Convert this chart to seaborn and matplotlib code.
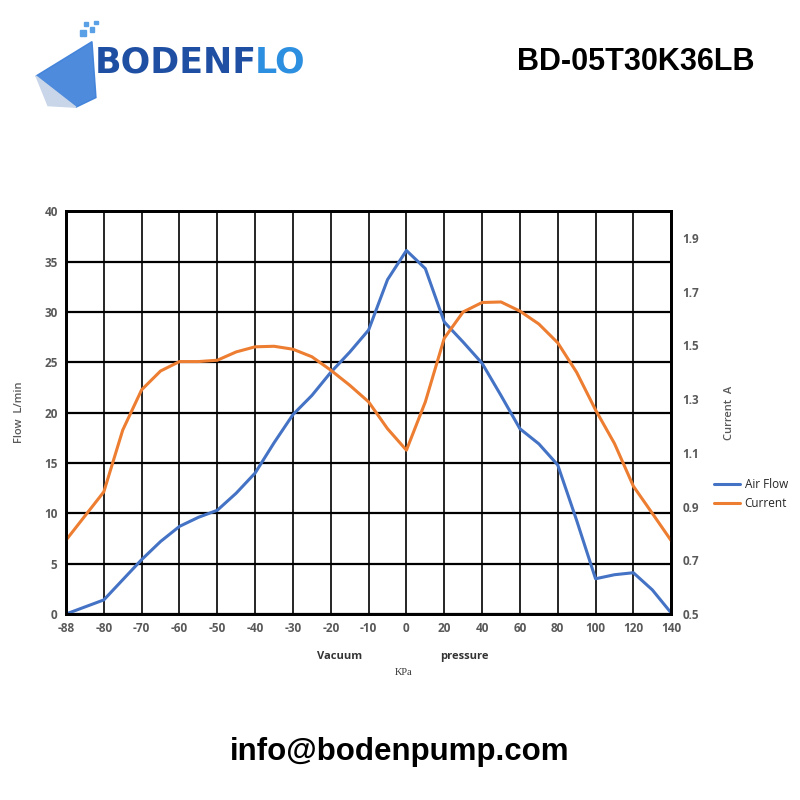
import matplotlib
matplotlib.use("Agg")
import pandas as pd
import matplotlib.pyplot as plt
from matplotlib.patches import Polygon, Rectangle
import seaborn as sns

# category labels of the pressure axis (equally spaced on the chart)
KPA_LABELS = [-88, -80, -70, -60, -50, -40, -30, -20, -10, 0, 20, 40, 60, 80, 100, 120, 140]

# readings taken at every tick and half-way between ticks (axis position)
POS = [0, 0.5, 1, 1.5, 2, 2.5, 3, 3.5, 4, 4.5, 5, 5.5, 6, 6.5, 7, 7.5, 8,
       8.5, 9, 9.5, 10, 10.5, 11, 11.5, 12, 12.5, 13, 13.5, 14, 14.5, 15, 15.5, 16]
AIR_FLOW = [0.0, 0.7, 1.4, 3.4, 5.4, 7.2, 8.7, 9.6, 10.3, 12.0, 14.0, 17.0, 19.8,
            21.7, 24.0, 26.0, 28.2, 33.2, 36.1, 34.3, 29.0, 27.0, 24.9, 21.7, 18.4,
            16.9, 14.8, 9.3, 3.5, 3.9, 4.1, 2.4, 0.1]
CURRENT = [0.775, 0.865, 0.955, 1.185, 1.335, 1.405, 1.44, 1.44, 1.445, 1.476, 1.495,
           1.497, 1.486, 1.458, 1.408, 1.352, 1.29, 1.19, 1.11, 1.29, 1.527, 1.625,
           1.66, 1.662, 1.628, 1.58, 1.51, 1.40, 1.26, 1.135, 0.976, 0.875, 0.773]

FLOW_TICKS = [0, 5, 10, 15, 20, 25, 30, 35, 40]
CURRENT_TICKS = [0.5, 0.7, 0.9, 1.1, 1.3, 1.5, 1.7, 1.9]

BLUE = "#4472C4"
ORANGE = "#ED7D31"
GRAY = "#595959"

df = pd.DataFrame({"pos": POS, "flow": AIR_FLOW, "current": CURRENT})

sns.set_style("white")
plt.rcParams["font.family"] = ["Liberation Sans", "DejaVu Sans"]
plt.rcParams["lines.solid_joinstyle"] = "round"

fig = plt.figure(figsize=(8, 8), dpi=100)
ax = fig.add_axes([0.0825, 0.2325, 0.7565, 0.5035])

sns.lineplot(data=df, x="pos", y="flow", ax=ax, color=BLUE, linewidth=2.2,
             label="Air Flow", legend=False)
ax2 = ax.twinx()
sns.lineplot(data=df, x="pos", y="current", ax=ax2, color=ORANGE, linewidth=2.2,
             label="Current", legend=False)

ax.set_xlim(0, 16)
ax.set_ylim(0, 40)
ax2.set_ylim(0.5, 2.0)

ax.set_xticks(range(len(KPA_LABELS)))
ax.set_xticklabels([str(v) for v in KPA_LABELS])
ax.set_yticks(FLOW_TICKS)
ax2.set_yticks(CURRENT_TICKS)
ax2.set_yticklabels([f"{v:.1f}" for v in CURRENT_TICKS])

ax.grid(True, axis="y", color="black", linewidth=1.6)
ax.grid(True, axis="x", color="black", linewidth=1.2)
ax.set_axisbelow(True)
ax.tick_params(length=0, labelsize=8.5, labelcolor=GRAY, pad=6)
ax2.tick_params(length=0, labelsize=8.5, labelcolor=GRAY, pad=8)
for t in ax.get_xticklabels() + ax.get_yticklabels() + ax2.get_yticklabels():
    t.set_fontweight("bold")
    t.set_family(["Open Sans", "DejaVu Sans"])
for a in (ax, ax2):
    for s in a.spines.values():
        s.set_color("black")
        s.set_linewidth(2.0)

ax.set_xlabel("")
ax.set_ylabel("Flow  L/min", fontsize=8, color=GRAY, fontweight="semibold",
              family=["Open Sans"], labelpad=14)
ax2.set_ylabel("Current  A", fontsize=8, color=GRAY, fontweight="semibold",
               family=["Open Sans"], labelpad=18)

fig.text(0.425, 0.179, "Vacuum", ha="center", va="center", fontsize=8,
         fontweight="bold", color="#333333", family=["Open Sans"])
fig.text(0.581, 0.179, "pressure", ha="center", va="center", fontsize=8,
         fontweight="bold", color="#333333", family=["Open Sans"])
fig.text(0.505, 0.159, "KPa", ha="center", va="center", fontsize=7.5,
         color="#333333", family=["Liberation Serif"])

h1, l1 = ax.get_legend_handles_labels()
h2, l2 = ax2.get_legend_handles_labels()
fig.legend(h1 + h2, l1 + l2, loc="center left", bbox_to_anchor=(0.885, 0.382),
           frameon=False, handlelength=2.2, handletextpad=0.4,
           labelspacing=0.5, borderpad=0, prop={"family": "Open Sans", "size": 8.5})

# header
fig.patches.append(Polygon([[0.045, 0.905], [0.115, 0.948], [0.12, 0.878], [0.095, 0.866]],
                           closed=True, transform=fig.transFigure, color="#3b7fd9",
                           alpha=0.9))
fig.patches.append(Polygon([[0.045, 0.905], [0.095, 0.866], [0.06, 0.868]],
                           closed=True, transform=fig.transFigure, color="#c9d6ea"))
for (x, y, s) in [(0.1, 0.955, 0.008), (0.112, 0.96, 0.006), (0.105, 0.968, 0.005),
                  (0.118, 0.97, 0.004)]:
    fig.patches.append(Rectangle((x, y), s, s, transform=fig.transFigure, color="#5aa0e6"))
fig.text(0.118, 0.922, "BODENF", ha="left", va="center", fontsize=25,
         fontweight="bold", color="#1f4fa3", family=["DejaVu Sans"])
fig.text(0.318, 0.922, "LO", ha="left", va="center", fontsize=25,
         fontweight="bold", color="#2d8fe0", family=["DejaVu Sans"])
fig.text(0.943, 0.922, "BD-05T30K36LB", ha="right", va="center", fontsize=22,
         fontweight="bold", color="black", family=["Liberation Sans"])

fig.text(0.5, 0.06, "info@bodenpump.com", ha="center", va="center", fontsize=22.5,
         fontweight="bold", color="black", family=["Liberation Sans"])

fig.savefig("out.png", dpi=100, facecolor="white")
